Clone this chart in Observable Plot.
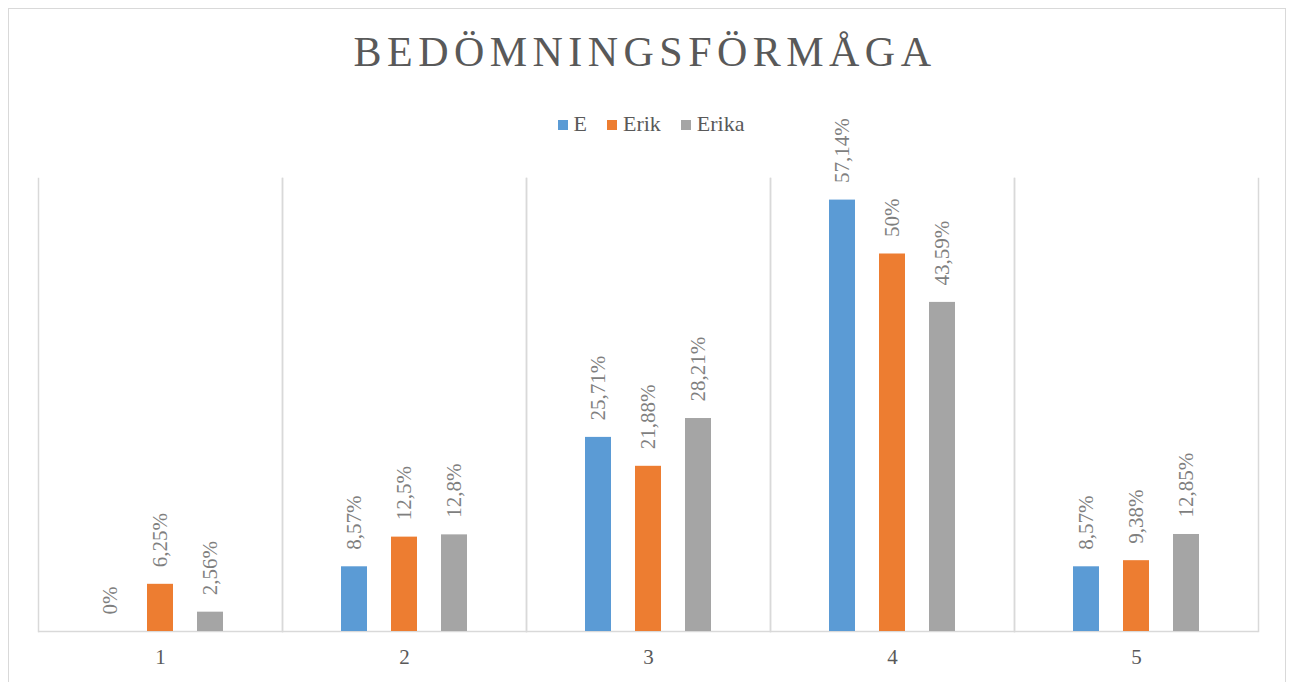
<!DOCTYPE html>
<html>
<head>
<meta charset="utf-8">
<script src="https://cdn.jsdelivr.net/npm/d3@7"></script>
<script src="https://cdn.jsdelivr.net/npm/@observablehq/plot@0.6"></script>
<style>
  html, body { margin: 0; padding: 0; background: #fff; }
  body { width: 1290px; height: 682px; position: relative; overflow: hidden; font-family: "Liberation Serif", "DejaVu Serif", serif; }
  #frame { position: absolute; left: 8px; top: 8px; width: 1278px; height: 700px; border: 1.5px solid #d9d9d9; border-bottom: none; box-sizing: border-box; }
  #title { position: absolute; left: 0; width: 1290px; top: 28px; text-align: center; font-size: 42px; letter-spacing: 0.13em; color: #595959; line-height: 48px; }
  #legend { position: absolute; left: 6px; width: 1290px; top: 111px; text-align: center; font-size: 22px; color: #595959; line-height: 26px; }
  #legend span.item { display: inline-block; margin: 0 10px; }
  #legend span.sw { display: inline-block; width: 10px; height: 10px; margin-right: 6px; vertical-align: 1px; }
  #chart { position: absolute; left: 0; top: 140px; }
</style>
</head>
<body>
<div id="frame"></div>
<div id="title">BEDÖMNINGSFÖRMÅGA</div>
<div id="legend"></div>
<div id="chart"></div>
<script>
const categories = ["1", "2", "3", "4", "5"];
const seriesNames = ["E", "Erik", "Erika"];
const seriesColors = ["#5B9BD5", "#ED7D31", "#A5A5A5"];
const valuesE = [0, 8.57, 25.71, 57.14, 8.57];
const valuesErik = [6.25, 12.5, 21.88, 50, 9.38];
const valuesErika = [2.56, 12.8, 28.21, 43.59, 12.85];

const seriesValues = [valuesE, valuesErik, valuesErika];
const data = [];
categories.forEach((c, i) => {
  seriesNames.forEach((s, j) => {
    data.push({cat: c, series: s, value: seriesValues[j][i]});
  });
});
const fmt = v => String(v).replace(".", ",") + "%";

// legend
const legend = document.getElementById("legend");
seriesNames.forEach((s, j) => {
  const item = document.createElement("span");
  item.className = "item";
  const sw = document.createElement("span");
  sw.className = "sw";
  sw.style.background = seriesColors[j];
  item.appendChild(sw);
  item.appendChild(document.createTextNode(s));
  legend.appendChild(item);
});

const chart = Plot.plot({
  width: 1290,
  height: 542,
  marginLeft: 38,
  marginRight: 32,
  marginTop: 38,
  marginBottom: 51,
  style: {fontFamily: "Liberation Serif, DejaVu Serif, serif", background: "transparent", overflow: "visible"},
  fx: {domain: categories, padding: 0, label: null, axis: null},
  x: {domain: seriesNames, paddingInner: 0.48, paddingOuter: 1.18, axis: null},
  y: {domain: [0, 60], axis: null},
  color: {domain: seriesNames, range: seriesColors},
  marks: [
    Plot.axisFx({anchor: "bottom", tickSize: 0, tickPadding: 18, fontSize: 21, fill: "#595959", label: null}),
    Plot.frame({anchor: "left", stroke: "#d9d9d9", strokeWidth: 1.5}),
    Plot.frame({anchor: "right", stroke: "#d9d9d9", strokeWidth: 1.5}),
    Plot.ruleY([0], {stroke: "#d9d9d9", strokeWidth: 1.5}),
    Plot.barY(data, {fx: "cat", x: "series", y: "value", fill: "series"}),
    Plot.text(data, {fx: "cat", x: "series", y: "value", text: d => fmt(d.value), rotate: -90, textAnchor: "start", dy: -17, fill: "#7f7f7f", fontSize: 21})
  ]
});
document.getElementById("chart").appendChild(chart);
</script>
</body>
</html>
